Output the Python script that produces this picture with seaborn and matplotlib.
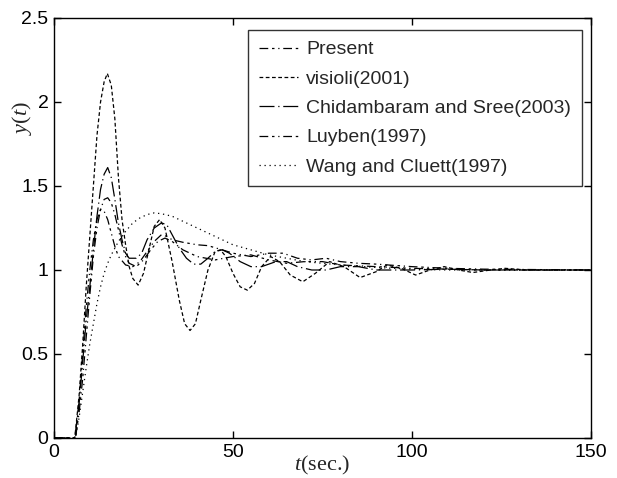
import matplotlib
matplotlib.use("Agg")
import matplotlib.pyplot as plt
import seaborn as sns
import pandas as pd

# ---- data ----
t_present = [0, 6, 7, 8, 9, 10, 11, 12, 13, 14, 15, 16, 17, 18, 20, 22, 24, 26, 28, 30, 31.5, 33, 36, 40, 43, 47, 50, 55, 60, 64, 68, 72, 76, 80, 85, 90, 100, 110, 120, 150]
y_present = [0, 0, 0.22, 0.5, 0.78, 1.0, 1.18, 1.3, 1.36, 1.35, 1.3, 1.22, 1.14, 1.08, 1.03, 1.02, 1.05, 1.11, 1.17, 1.21, 1.2, 1.18, 1.165, 1.15, 1.145, 1.12, 1.1, 1.08, 1.1, 1.1, 1.07, 1.06, 1.07, 1.05, 1.04, 1.035, 1.02, 1.01, 1.005, 1.0]

t_visioli = [0, 5.8, 7, 8, 9, 10, 11, 12, 13, 14, 14.9, 16, 17, 18, 19, 20, 21, 22, 23.5, 25, 26.5, 28, 29.5, 31, 33, 35, 36.5, 38, 39.5, 41, 43, 45, 46.5, 48, 50, 52, 54, 56, 58, 60.5, 63, 66, 69.5, 73, 77, 81, 85.5, 90, 93, 97, 101, 105, 109, 113, 117, 122, 126, 132, 150]
y_visioli = [0, 0, 0.25, 0.55, 0.9, 1.2, 1.5, 1.8, 2.0, 2.12, 2.17, 2.1, 1.9, 1.55, 1.3, 1.15, 1.02, 0.95, 0.91, 0.98, 1.12, 1.26, 1.30, 1.25, 1.05, 0.82, 0.68, 0.64, 0.68, 0.82, 1.0, 1.11, 1.12, 1.08, 0.98, 0.9, 0.88, 0.92, 1.02, 1.08, 1.05, 0.97, 0.93, 0.98, 1.05, 1.02, 0.955, 0.99, 1.03, 1.01, 0.97, 1.0, 1.02, 1.0, 0.985, 1.0, 1.01, 1.0, 1.0]

t_chid = [0, 5.8, 7, 8, 9, 10, 11, 12, 13, 14, 15, 16, 17, 18, 19, 20, 21, 23, 24.5, 26, 28, 30, 31.5, 33, 35, 37, 39, 41, 43, 45, 47, 49, 52, 55, 58, 62, 65, 68, 72, 76, 80, 85, 90, 100, 110, 120, 150]
y_chid = [0, 0, 0.2, 0.45, 0.7, 0.9, 1.12, 1.32, 1.48, 1.57, 1.61, 1.55, 1.42, 1.28, 1.18, 1.1, 1.07, 1.07, 1.1, 1.18, 1.25, 1.28, 1.27, 1.21, 1.13, 1.07, 1.035, 1.035, 1.07, 1.11, 1.12, 1.1, 1.05, 1.02, 1.02, 1.05, 1.05, 1.02, 1.0, 1.0, 1.02, 1.02, 1.0, 1.0, 1.005, 1.0, 1.0]

t_luyben = [0, 6, 7, 8, 9, 10, 11, 12, 13, 14, 15, 16, 17, 18, 19, 20, 21, 23, 25, 27, 29, 31, 33, 36, 40, 45, 50, 55, 60, 65, 70, 75, 80, 90, 100, 120, 150]
y_luyben = [0, 0, 0.15, 0.35, 0.6, 0.85, 1.08, 1.25, 1.36, 1.42, 1.43, 1.4, 1.33, 1.24, 1.15, 1.08, 1.04, 1.02, 1.06, 1.12, 1.17, 1.19, 1.17, 1.12, 1.08, 1.06, 1.08, 1.09, 1.06, 1.04, 1.05, 1.05, 1.03, 1.02, 1.01, 1.0, 1.0]

t_wang = [0, 6, 7, 8, 9, 10, 11, 12, 13, 14, 15, 16, 18, 20, 22, 24, 26, 28, 30, 33, 36, 40, 45, 50, 55, 60, 65, 70, 75, 80, 90, 100, 110, 150]
y_wang = [0, 0, 0.12, 0.27, 0.42, 0.56, 0.68, 0.8, 0.9, 0.98, 1.04, 1.09, 1.17, 1.23, 1.28, 1.31, 1.33, 1.34, 1.335, 1.32, 1.29, 1.25, 1.2, 1.15, 1.12, 1.09, 1.07, 1.05, 1.04, 1.03, 1.015, 1.005, 1.0, 1.0]

labels = ["Present", "visioli(2001)", "Chidambaram and Sree(2003)", "Luyben(1997)", "Wang and Cluett(1997)"]
x_ticks = [0, 50, 100, 150]
y_ticks = [0, 0.5, 1, 1.5, 2, 2.5]
y_tick_labels = ["0", "0.5", "1", "1.5", "2", "2.5"]

series = [(t_present, y_present), (t_visioli, y_visioli), (t_chid, y_chid),
          (t_luyben, y_luyben), (t_wang, y_wang)]
styles = [(0, (7, 3, 2, 3, 1, 3)), (0, (3, 2)), (0, (12, 3, 1, 3)),
          (0, (7, 3, 2, 3, 1, 3)), (0, (1, 3))]

sns.set_theme(style="white")
plt.rcParams['font.family'] = ['Liberation Sans', 'DejaVu Sans']
plt.rcParams['mathtext.fontset'] = 'custom'
plt.rcParams['mathtext.it'] = 'Liberation Serif:italic'
plt.rcParams['mathtext.rm'] = 'Liberation Serif'

fig = plt.figure(figsize=(6.17, 4.78), dpi=100)
ax = fig.add_axes([54/617, 40/478, 537/617, 420/478])

for (tt, yy), lab, ls in zip(series, labels, styles):
    df = pd.DataFrame({"t": tt, "y": yy})
    sns.lineplot(data=df, x="t", y="y", ax=ax, color="black", linewidth=0.9,
                 linestyle=ls, label=lab, estimator=None, errorbar=None, sort=False)

ax.set_xlim(0, 150)
ax.set_ylim(0, 2.5)
ax.set_xticks(x_ticks)
ax.set_xticklabels([str(v) for v in x_ticks])
ax.set_yticks(y_ticks)
ax.set_yticklabels(y_tick_labels)
ax.tick_params(direction='in', length=5, width=1, colors='black', labelsize=14,
               top=True, right=True, bottom=True, left=True, pad=4)
for s in ax.spines.values():
    s.set_color('black')
    s.set_linewidth(1.0)
    s.set_visible(True)
ax.grid(False)

ax.set_xlabel(r'$t$(sec.)', fontsize=16, family='Liberation Serif')
ax.xaxis.set_label_coords(0.5, -0.038)
ax.set_ylabel('')
fig.text(22/617, 1 - 118/478, r'$y$($t$)', rotation=90, fontsize=16,
         family='Liberation Serif', ha='center', va='center')

leg = ax.legend(loc='upper right', bbox_to_anchor=(0.983, 0.971), borderaxespad=0,
                fontsize=14, frameon=True, fancybox=False, edgecolor='black',
                handlelength=2.0, handletextpad=0.45, labelspacing=0.6,
                borderpad=0.55)
leg.get_frame().set_linewidth(1.0)

fig.savefig("out.png", dpi=100)
